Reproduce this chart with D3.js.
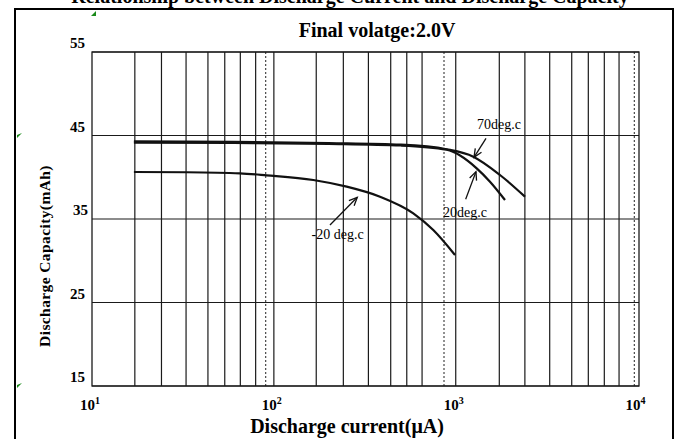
<!DOCTYPE html>
<html><head><meta charset="utf-8">
<script src="https://cdn.jsdelivr.net/npm/d3@7/dist/d3.min.js"></script>
<style>
html,body{margin:0;padding:0;background:#fff;overflow:hidden;}
svg{display:block;}
text{font-family:"Liberation Serif","Times New Roman",serif;}
</style></head>
<body>
<svg id="c" width="676" height="439"></svg>
<script>
// ---- data ----
const pageTitle = "Relationship between Discharge Current and Discharge Capacity";
const chartTitle = "Final volatge:2.0V";
const xAxisTitle = "Discharge current(\u03bcA)";
const yAxisTitle = "Discharge Capacity(mAh)";
const xTickValues = [10, 100, 1000, 10000];
const xTickExponents = ["1", "2", "3", "4"];
const yTickValues = [15, 25, 35, 45, 55];
// minor grid lines as drawn (solid) and dotted lines
const gridSolid = [17.2, 24.1, 32.9, 43.4, 53.7, 65.4, 79.4,
                   171, 241, 331, 439, 538, 653,
                   1736, 2400, 3286, 4343, 5358, 6561, 7907];
const gridDotted = [90.2, 862, 9590];

const currentM20 = [17.0, 33.2, 65.1, 91.3, 164.8, 251.5, 383.4, 584.4, 752.6, 990.6];
const capM20     = [40.63, 40.6, 40.47, 40.23, 39.67, 38.87, 37.67, 35.68, 33.68, 30.69];

const current70 = [17.0, 60, 200, 500, 891, 1249, 1751, 2403];
const cap70     = [44.3, 44.25, 44.1, 43.9, 43.35, 42.46, 40.27, 37.67];

const current20 = [17.0, 60, 200, 500, 891, 1304, 1543, 1866];
const cap20     = [44.15, 44.1, 44.0, 43.8, 43.3, 41.07, 39.47, 37.28];

const annotations = [
  {text: "70deg.c",   tx: 1729, ty: 45.78, fromX: 1467, fromY: 44.66, toX: 1260, toY: 42.39},
  {text: "20deg.c",   tx: 1124, ty: 35.24, fromX: 1134, fromY: 37.36, toX: 1292, toY: 40.67},
  {text: "-20 deg.c", tx: 224,  ty: 32.6,  fromX: 203.5, fromY: 34.28, toX: 287.5, toY: 37.6}
];

// ---- drawing ----
const svg = d3.select("#c");
const L = 92, R = 639, T = 52, B = 386;
const x = d3.scaleLog().domain([10, 10000]).range([L, 637.6]);
const y = d3.scaleLinear().domain([15, 55]).range([B, T]);

// outer page frame
svg.append("rect").attr("x", 15).attr("y", 9).attr("width", 658).attr("height", 440)
  .attr("fill", "none").attr("stroke", "#000").attr("stroke-width", 2);

// cut-off page title
svg.append("text").attr("x", 350).attr("y", 3).attr("text-anchor", "middle")
  .attr("font-size", 20).attr("font-weight", "bold").text(pageTitle);

// green anchor marks
[[17, 135], [17, 385]].forEach(p => {
  svg.append("path").attr("d", `M${p[0]},${p[1]} l5,-2 l-5,5 z`).attr("fill", "#1a8a1a");
});
svg.append("path").attr("d", "M91,16 l5,-5 l0,5 z").attr("fill", "#1a8a1a");

// grid
const g = svg.append("g");
g.selectAll(".vs").data(gridSolid).enter().append("line")
  .attr("x1", d => x(d)).attr("x2", d => x(d)).attr("y1", T).attr("y2", B)
  .attr("stroke", "#1a1a1a").attr("stroke-width", 1.2);
g.selectAll(".vmaj").data(xTickValues.slice(1, 3)).enter().append("line")
  .attr("x1", d => x(d)).attr("x2", d => x(d)).attr("y1", T).attr("y2", B)
  .attr("stroke", "#1a1a1a").attr("stroke-width", 1.2);
g.selectAll(".vd").data(gridDotted).enter().append("line")
  .attr("x1", d => x(d)).attr("x2", d => x(d)).attr("y1", T).attr("y2", B)
  .attr("stroke", "#222").attr("stroke-width", 1).attr("stroke-dasharray", "2,2");
g.selectAll(".hg").data(yTickValues).enter().append("line")
  .attr("x1", L).attr("x2", R).attr("y1", d => y(d)).attr("y2", d => y(d))
  .attr("stroke", "#1a1a1a").attr("stroke-width", 1.2);
g.append("rect").attr("x", L).attr("y", T).attr("width", R - L).attr("height", B - T)
  .attr("fill", "none").attr("stroke", "#1a1a1a").attr("stroke-width", 1.3);

// y tick labels
svg.selectAll(".yl").data(yTickValues).enter().append("text")
  .attr("x", d => d === 35 ? 88 : 85).attr("y", d => y(d) - 4).attr("text-anchor", "end")
  .attr("font-size", 15).attr("font-weight", "bold").text(d => d);

// x tick labels with superscripts
xTickValues.forEach((v, i) => {
  const t = svg.append("text").attr("x", x(v) - 2).attr("y", 410).attr("text-anchor", "middle")
    .attr("font-size", 15).attr("font-weight", "bold");
  t.append("tspan").text("10");
  t.append("tspan").attr("dy", -6).attr("font-size", 10).text(xTickExponents[i]);
});

// titles
svg.append("text").attr("x", 377).attr("y", 37).attr("text-anchor", "middle")
  .attr("font-size", 20).attr("font-weight", "bold").text(chartTitle);
svg.append("text").attr("x", 347).attr("y", 433).attr("text-anchor", "middle")
  .attr("font-size", 20).attr("font-weight", "bold").text(xAxisTitle);
svg.append("text").attr("transform", "translate(50,256) rotate(-90)").attr("text-anchor", "middle")
  .attr("font-size", 15.5).attr("font-weight", "bold").attr("letter-spacing", 0.4).text(yAxisTitle);

// curves
const line = d3.line().x(d => x(d[0])).y(d => y(d[1])).curve(d3.curveMonotoneX);
[[currentM20, capM20], [current70, cap70], [current20, cap20]].forEach(s => {
  svg.append("path").datum(d3.zip(s[0], s[1])).attr("d", line)
    .attr("fill", "none").attr("stroke", "#111").attr("stroke-width", 2.2);
});

// annotations
annotations.forEach(a => {
  svg.append("text").attr("x", x(a.tx)).attr("y", y(a.ty)).attr("text-anchor", "middle")
    .attr("font-size", 14).text(a.text);
  const x1 = x(a.fromX), y1 = y(a.fromY), x2 = x(a.toX), y2 = y(a.toY);
  svg.append("line").attr("x1", x1).attr("y1", y1).attr("x2", x2).attr("y2", y2)
    .attr("stroke", "#111").attr("stroke-width", 1.3);
  const ang = Math.atan2(y2 - y1, x2 - x1), h = 9, w = 0.42;
  const p1 = [x2 - h * Math.cos(ang - w), y2 - h * Math.sin(ang - w)];
  const p2 = [x2 - h * Math.cos(ang + w), y2 - h * Math.sin(ang + w)];
  svg.append("path").attr("d", `M${p1[0]},${p1[1]} L${x2},${y2} L${p2[0]},${p2[1]}`)
    .attr("fill", "none").attr("stroke", "#111").attr("stroke-width", 1.3);
});
</script>
</body></html>
